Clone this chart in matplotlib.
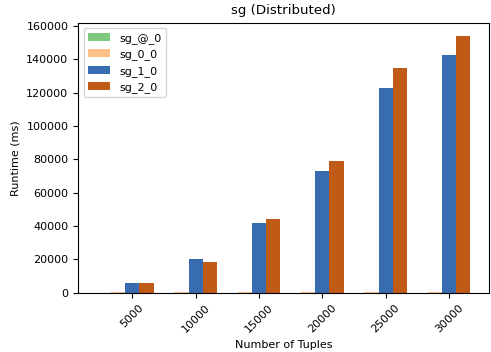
import matplotlib
matplotlib.use("Agg")
import matplotlib.pyplot as plt
import numpy as np

plt.rcParams["font.size"] = 8

categories = ["5000", "10000", "15000", "20000", "25000", "30000"]
series_names = ["sg_@_0", "sg_0_0", "sg_1_0", "sg_2_0"]
sg_at_0 = [0, 0, 0, 0, 0, 0]
sg_0_0 = [300, 300, 300, 300, 300, 300]
sg_1_0 = [6100, 20300, 41900, 72900, 122800, 142300]
sg_2_0 = [6100, 18500, 43900, 78700, 134500, 154200]
colors = ["#7fc97f", "#fdc086", "#386cb0", "#bf5b17"]

fig = plt.figure(figsize=(4.91, 3.52), dpi=100)
ax = fig.add_axes([0.159, 0.1685, 0.837, 0.767])

x = np.arange(len(categories))
w = 0.225
all_series = [sg_at_0, sg_0_0, sg_1_0, sg_2_0]
n = len(all_series)
for i, (vals, name, c) in enumerate(zip(all_series, series_names, colors)):
    ax.bar(x + (i - n / 2) * w, vals, width=w, color=c, label=name)

ax.set_xticks(x)
ax.set_xticklabels(categories, rotation=45)
ax.set_xlabel("Number of Tuples")
ax.set_ylabel("Runtime (ms)")
ax.set_title("sg (Distributed)")
ax.legend(loc="upper left")

fig.savefig("out.png", dpi=100)
